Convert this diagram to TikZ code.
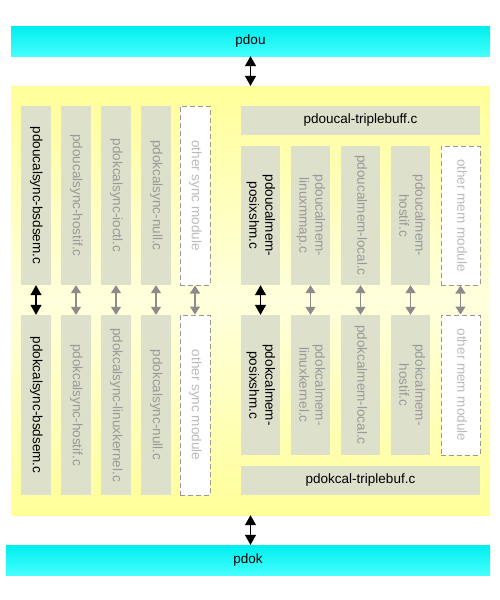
\documentclass[tikz,border=0pt]{standalone}
\usepackage{fontspec}
\setmainfont{Liberation Sans}
\usetikzlibrary{arrows.meta}
\definecolor{cyantop}{RGB}{0,238,238}
\definecolor{cyanbot}{RGB}{68,255,255}
\definecolor{calyellow}{RGB}{255,255,153}
\definecolor{callight}{RGB}{255,255,221}
\definecolor{boxfill}{RGB}{221,224,203}
\definecolor{modtext}{RGB}{153,153,153}
\definecolor{othertext}{RGB}{187,187,187}
\definecolor{arrowgray}{RGB}{140,140,140}
\newcommand{\vtext}[1]{\rotatebox{-90}{\begin{tabular}{@{}c@{}}#1\end{tabular}}}
\tikzset{
  layer/.style={top color=cyantop, bottom color=cyanbot, inner sep=0pt, minimum height=30pt},
  modbox/.style={fill=boxfill, inner sep=0pt, text=modtext},
  mainbox/.style={modbox, text=black},
  otherbox/.style={fill=white, draw=modtext, dashed, dash pattern=on 5pt off 3pt, line width=1pt, inner sep=0pt, text=othertext},
  syncbox/.style={minimum width=30pt},
  membox/.style={minimum width=39pt},
  biarrow/.style={{Triangle[width=11pt,length=10pt]}-{Triangle[width=11pt,length=10pt]}, line width=1.4pt},
  grayarrow/.style={{Triangle[width=10pt,length=8pt]}-{Triangle[width=10pt,length=8pt]}, line width=1.4pt, arrowgray}
}
\begin{document}
\begin{tikzpicture}[x=1pt, y=-1pt, font=\fontsize{13.5}{16}\selectfont]
  \useasboundingbox (0,0) rectangle (500,600);
  % layers
  \node[layer, minimum width=479pt] (pdou) at (250.5,41) {pdou};
  \node[top color=calyellow, bottom color=calyellow, middle color=callight, inner sep=0pt,
        minimum width=479pt, minimum height=429pt] (cal) at (250.5,300.5) {};
  \node[layer, minimum width=484pt] (pdok) at (248,560) {pdok};
  \draw[biarrow] (pdou.south) -- (cal.north);
  \draw[biarrow] (cal.south) -- (cal.south |- pdok.north);
  % sync modules
  \node[mainbox, syncbox, minimum height=179pt] (us1) at (36,195.5) {\vtext{pdoucalsync-bsdsem.c}};
  \node[modbox, syncbox, minimum height=179pt] (us2) at (76,195.5) {\vtext{pdoucalsync-hostif.c}};
  \node[modbox, syncbox, minimum height=179pt] (us3) at (116,195.5) {\vtext{pdokcalsync-ioctl.c}};
  \node[modbox, syncbox, minimum height=179pt] (us4) at (156,195.5) {\vtext{pdokcalsync-null.c}};
  \node[otherbox, syncbox, minimum height=179pt] (us5) at (195,195.5) {\vtext{other sync module}};
  \node[mainbox, syncbox, minimum height=180pt] (ks1) at (36,405) {\vtext{pdokcalsync-bsdsem.c}};
  \node[modbox, syncbox, minimum height=180pt] (ks2) at (76,405) {\vtext{pdokcalsync-hostif.c}};
  \node[modbox, syncbox, minimum height=180pt] (ks3) at (116,405) {\vtext{pdokcalsync-linuxkernel.c}};
  \node[modbox, syncbox, minimum height=180pt] (ks4) at (156,405) {\vtext{pdokcalsync-null.c}};
  \node[otherbox, syncbox, minimum height=180pt] (ks5) at (195,405) {\vtext{other sync module}};
  % memory modules
  \node[mainbox, minimum width=239pt, minimum height=29pt] (utb) at (360.5,120.5) {pdoucal-triplebuff.c};
  \node[mainbox, membox, minimum height=139pt] (um1) at (260.5,215.5) {\vtext{pdoucalmem-\\posixshm.c}};
  \node[modbox, membox, minimum height=139pt] (um2) at (310.5,215.5) {\vtext{pdoucalmem-\\linuxmmap.c}};
  \node[modbox, membox, minimum height=139pt] (um3) at (360.5,215.5) {\vtext{pdoucalmem-local.c}};
  \node[modbox, membox, minimum height=139pt] (um4) at (410.5,215.5) {\vtext{pdoucalmem-\\hostif.c}};
  \node[otherbox, membox, minimum height=139pt] (um5) at (460.5,215.5) {\vtext{other mem module}};
  \node[mainbox, membox, minimum height=140pt] (km1) at (260.5,385) {\vtext{pdokcalmem-\\posixshm.c}};
  \node[modbox, membox, minimum height=140pt] (km2) at (310.5,385) {\vtext{pdokcalmem-\\linuxkernel.c}};
  \node[modbox, membox, minimum height=140pt] (km3) at (360.5,385) {\vtext{pdokcalmem-local.c}};
  \node[modbox, membox, minimum height=140pt] (km4) at (410.5,385) {\vtext{pdokcalmem-\\hostif.c}};
  \node[otherbox, membox, minimum height=140pt] (km5) at (460.5,385) {\vtext{other mem module}};
  \node[mainbox, minimum width=239pt, minimum height=29pt] (ktb) at (360.5,480.5) {pdokcal-triplebuf.c};
  % connections
  \draw[biarrow] (us1.south) -- (ks1.north);
  \draw[biarrow] (um1.south) -- (km1.north);
  \foreach \i in {2,...,5} {
    \draw[grayarrow] (us\i.south) -- (ks\i.north);
    \draw[grayarrow] (um\i.south) -- (km\i.north);
  }
\end{tikzpicture}
\end{document}
